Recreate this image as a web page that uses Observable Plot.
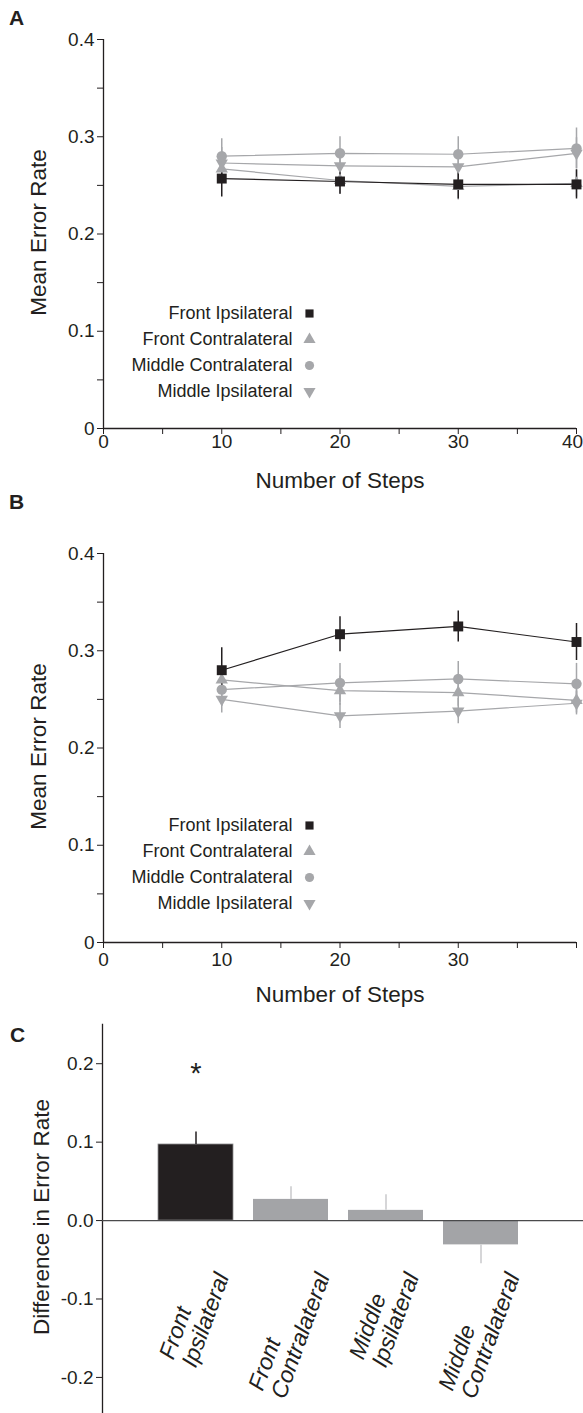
<!DOCTYPE html>
<html><head><meta charset="utf-8">
<script src="https://cdn.jsdelivr.net/npm/d3@7"></script>
<script src="https://cdn.jsdelivr.net/npm/@observablehq/plot@0.6"></script>
<style>
body{margin:0;background:#fff;}
#root{position:relative;width:583px;height:1413px;overflow:hidden;font-family:"Liberation Sans",Arial,sans-serif;color:#231f20;background:#fff}
.panel{position:absolute;left:0}
.letter{position:absolute;font-weight:bold;font-size:21px;line-height:1}
</style></head><body><div id="root"></div><script>
// ---------- data ----------
const steps = [10, 20, 30, 40];
const seriesNames = ["Front Ipsilateral", "Front Contralateral", "Middle Contralateral", "Middle Ipsilateral"];

// Panel A
const aFrontIpsi = [0.257, 0.254, 0.251, 0.251];
const aFrontIpsiErr = [0.019, 0.013, 0.015, 0.015];
const aFrontContra = [0.267, 0.255, 0.249, 0.252];
const aFrontContraErr = [0.015, 0.014, 0.014, 0.014];
const aMiddleContra = [0.280, 0.283, 0.282, 0.288];
const aMiddleContraErr = [0.018, 0.017, 0.018, 0.021];
const aMiddleIpsi = [0.273, 0.270, 0.269, 0.283];
const aMiddleIpsiErr = [0.016, 0.015, 0.015, 0.016];

// Panel B
const bFrontIpsi = [0.280, 0.317, 0.325, 0.309];
const bFrontIpsiErr = [0.023, 0.018, 0.016, 0.019];
const bFrontContra = [0.270, 0.259, 0.257, 0.249];
const bFrontContraErr = [0.014, 0.015, 0.014, 0.013];
const bMiddleContra = [0.260, 0.267, 0.271, 0.266];
const bMiddleContraErr = [0.017, 0.020, 0.018, 0.021];
const bMiddleIpsi = [0.250, 0.233, 0.238, 0.246];
const bMiddleIpsiErr = [0.014, 0.013, 0.013, 0.012];

// Panel C
const cCategories = ["Front Ipsilateral", "Front Contralateral", "Middle Ipsilateral", "Middle Contralateral"];
const cLabelLine1 = ["Front", "Front", "Middle", "Middle"];
const cLabelLine2 = ["Ipsilateral", "Contralateral", "Ipsilateral", "Contralateral"];
const cDiff = [0.097, 0.027, 0.013, -0.031];
const cDiffErr = [0.016, 0.016, 0.020, 0.024];
const cSignificance = ["*", "", "", ""];

// ticks
const xTicks = [0, 5, 10, 15, 20, 25, 30, 35, 40];
const xTickLabelsA = ["0", "", "10", "", "20", "", "30", "", "40"];
const xTickLabelsB = ["0", "", "10", "", "20", "", "30", "", ""];
const yTicks = [0, 0.05, 0.1, 0.15, 0.2, 0.25, 0.3, 0.35, 0.4];
const yTickLabels = ["0", "", "0.1", "", "0.2", "", "0.3", "", "0.4"];
const cTicks = [-0.2, -0.1, 0, 0.1, 0.2];
const cTickLabels = ["-0.2", "-0.1", "0.0", "0.1", "0.2"];

// ---------- styles ----------
const BLACK = "#231f20";
const GRAY = "#a6a7aa";
const FONT = "'Liberation Sans', Arial, sans-serif";
const TICK_FS = 19, LEGEND_FS = 18, TITLE_FS = 22.5;
const seriesColor = [BLACK, GRAY, GRAY, GRAY];
const seriesSymbol = ["square", "triangle", "circle", "triangle"];
const seriesRotate = [0, 0, 0, 180];
const seriesR = [5.6, 4.6, 5.2, 4.6];
const legendR = [4.6, 4.5, 4.6, 4.5];
const drawOrder = [3, 1, 2, 0];

const lookup = (ticks, labels) => d => { const k = ticks.findIndex(t => Math.abs(t - d) < 1e-9); return k < 0 ? "" : labels[k]; };

function linePanel({means, errs, xLabels, tickPadX, legendDy}) {
  const marks = [];
  const rows = [];
  means.forEach((arr, s) => steps.forEach((st, j) => rows.push({s, series: seriesNames[s], step: st, value: arr[j], err: errs[s][j]})));
  const lastTick = xTicks[xTicks.length - 1];
  const xFmt = lookup(xTicks, xLabels);
  // axes
  marks.push(Plot.axisY({ticks: yTicks, tickFormat: lookup(yTicks, yTickLabels), tickSize: 6, tickPadding: 3, label: null, fontSize: TICK_FS}));
  marks.push(Plot.axisX({ticks: xTicks, tickFormat: d => d === lastTick ? "" : xFmt(d), tickSize: 6, tickPadding: tickPadX, label: null, fontSize: TICK_FS}));
  marks.push(Plot.axisX({ticks: [lastTick], tickFormat: xFmt, tickSize: 0, tickPadding: tickPadX + 6, dx: -4, label: null, fontSize: TICK_FS}));
  marks.push(Plot.ruleX([0], {stroke: BLACK, strokeWidth: 1.3}));
  marks.push(Plot.ruleY([0], {stroke: BLACK, strokeWidth: 1.3}));
  // error bars
  for (const s of drawOrder) {
    const d = rows.filter(r => r.s === s);
    marks.push(Plot.ruleX(d, {x: "step", y1: r => r.value - r.err, y2: r => r.value + r.err, stroke: seriesColor[s], strokeWidth: 1.5}));
  }
  for (const s of drawOrder) {
    const d = rows.filter(r => r.s === s);
    marks.push(Plot.line(d, {x: "step", y: "value", stroke: seriesColor[s], strokeWidth: 1.2}));
  }
  for (const s of drawOrder) {
    const d = rows.filter(r => r.s === s);
    marks.push(Plot.dot(d, {x: "step", y: "value", symbol: seriesSymbol[s], r: seriesR[s], fill: seriesColor[s], stroke: "none", rotate: seriesRotate[s]}));
  }
  // legend
  seriesNames.forEach((name, i) => {
    marks.push(Plot.text([name], {text: d => d, frameAnchor: "top-left", dx: 189, dy: legendDy + 26 * i, textAnchor: "end", lineAnchor: "middle", fontSize: LEGEND_FS, fill: BLACK}));
    marks.push(Plot.dot([name], {frameAnchor: "top-left", dx: 206, dy: legendDy + 26 * i, symbol: seriesSymbol[i], r: legendR[i], fill: seriesColor[i], stroke: "none", rotate: seriesRotate[i]}));
  });
  // titles
  marks.push(Plot.text(["Mean Error Rate"], {text: d => d, frameAnchor: "left", dx: -65, dy: -1.5, rotate: -90, textAnchor: "middle", lineAnchor: "middle", fontSize: TITLE_FS, fill: BLACK}));
  marks.push(Plot.text(["Number of Steps"], {text: d => d, frameAnchor: "bottom", dy: 52, textAnchor: "middle", lineAnchor: "middle", fontSize: TITLE_FS, fill: BLACK}));
  return marks;
}

function makeLine(cfg, marginTop) {
  return Plot.plot({
    width: 583, height: marginTop + 389 + 72,
    marginTop, marginBottom: 72, marginLeft: 103, marginRight: 7,
    x: {domain: [0, 40]},
    y: {domain: [0, 0.4]},
    style: {fontFamily: FONT, fontSize: TICK_FS + "px", color: BLACK, background: "transparent", overflow: "visible"},
    marks: linePanel(cfg)
  });
}

const root = document.getElementById("root");
function place(el, top) { el.classList.add("panel"); el.style.top = top + "px"; root.appendChild(el); }

const plotA = makeLine({
  means: [aFrontIpsi, aFrontContra, aMiddleContra, aMiddleIpsi],
  errs: [aFrontIpsiErr, aFrontContraErr, aMiddleContraErr, aMiddleIpsiErr],
  xLabels: xTickLabelsA, tickPadX: 0, legendDy: 274
}, 39);
place(plotA, 0);

const plotB = makeLine({
  means: [bFrontIpsi, bFrontContra, bMiddleContra, bMiddleIpsi],
  errs: [bFrontIpsiErr, bFrontContraErr, bMiddleContraErr, bMiddleIpsiErr],
  xLabels: xTickLabelsB, tickPadX: 4, legendDy: 272
}, 43);
place(plotB, 510);

// Panel C
const cRows = cCategories.map((c, i) => ({cat: c, value: cDiff[i], err: cDiffErr[i], sig: cSignificance[i], i}));
const LABEL_FS = 23, LINE_H = 1.04;
const canvas = document.createElement("canvas").getContext("2d");
canvas.font = `italic ${LABEL_FS}px ${FONT}`;
const ang = -70 * Math.PI / 180;
const cu = Math.cos(ang), su = -Math.sin(ang); // 0.342, 0.940
const L = LABEL_FS * LINE_H;
const cMarks = [
  Plot.axisY({ticks: cTicks, tickFormat: lookup(cTicks, cTickLabels), tickSize: 6, tickPadding: 3, label: null, fontSize: TICK_FS}),
  Plot.axisX({ticks: [], label: null}),
  Plot.frame({anchor: "left", stroke: BLACK, strokeWidth: 1.3}),
  Plot.barY(cRows, {x: "cat", y: "value", fill: r => r.i === 0 ? BLACK : "#a3a4a7", stroke: r => r.i === 0 ? "#8e8e90" : "none", strokeWidth: 0.8}),
  Plot.ruleX(cRows, {x: "cat", y1: "value", y2: r => r.value + Math.sign(r.value) * r.err, stroke: r => r.i === 0 ? BLACK : "#c8c9cb", strokeWidth: 1.5}),
  Plot.ruleY([0], {stroke: "#4a4a4c", strokeWidth: 1.2}),
  Plot.text(cRows.filter(r => r.sig), {x: "cat", y: r => r.value + r.err, text: "sig", dy: -58, fontSize: 29, fill: BLACK}),
  Plot.text(["Difference in Error Rate"], {text: d => d, frameAnchor: "left", dx: -61, dy: -2, rotate: -90, textAnchor: "middle", lineAnchor: "middle", fontSize: TITLE_FS, fill: BLACK})
];
cRows.forEach((r, i) => {
  const W = Math.max(canvas.measureText(cLabelLine1[i]).width, canvas.measureText(cLabelLine2[i]).width);
  const dx = -(cu * W + su * (L + 0.71 * LABEL_FS)) / 2 - 3;
  const dy = 50 + su * W - cu * L;
  cMarks.push(Plot.text([r], {x: "cat", y: () => 0, text: () => cLabelLine1[i] + "\n" + cLabelLine2[i], rotate: -70, textAnchor: "start", lineAnchor: "top", lineHeight: LINE_H, fontSize: LABEL_FS, fontStyle: "italic", dx, dy, fill: BLACK}));
});
const plotC = Plot.plot({
  width: 583, height: 401,
  marginTop: 12, marginBottom: 0, marginLeft: 102, marginRight: 0,
  x: {domain: cCategories, type: "band", range: [138.5, 538.5], paddingInner: 0.21, paddingOuter: 0.21},
  y: {domain: [-0.246, 0.25]},
  style: {fontFamily: FONT, fontSize: TICK_FS + "px", color: BLACK, background: "transparent", overflow: "visible"},
  marks: cMarks
});
place(plotC, 1012);

// panel letters
[["A", 7, 9], ["B", 491, 9], ["C", 1024, 10]].forEach(([t, top, left]) => {
  const d = document.createElement("div");
  d.className = "letter"; d.textContent = t; d.style.top = top + "px"; d.style.left = left + "px";
  root.appendChild(d);
});
</script></body></html>
